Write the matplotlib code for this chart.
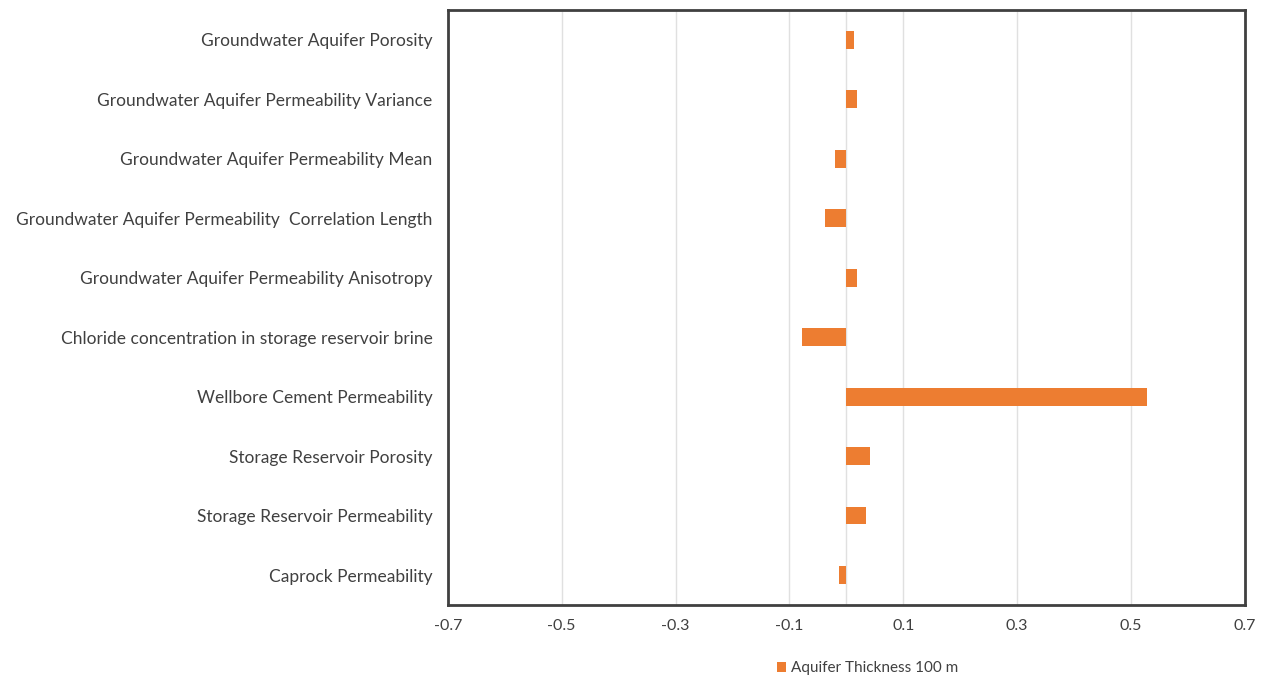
import matplotlib
matplotlib.use("Agg")
import matplotlib.pyplot as plt
import numpy as np

categories = [
    "Groundwater Aquifer Porosity",
    "Groundwater Aquifer Permeability Variance",
    "Groundwater Aquifer Permeability Mean",
    "Groundwater Aquifer Permeability  Correlation Length",
    "Groundwater Aquifer Permeability Anisotropy",
    "Chloride concentration in storage reservoir brine",
    "Wellbore Cement Permeability",
    "Storage Reservoir Porosity",
    "Storage Reservoir Permeability",
    "Caprock Permeability",
]
values = [0.013, 0.018, -0.019, -0.037, 0.018, -0.078, 0.528, 0.041, 0.034, -0.012]
series_name = "Aquifer Thickness 100 m"
xticks = [-0.7, -0.5, -0.3, -0.1, 0.1, 0.3, 0.5, 0.7]

plt.rcParams['font.family'] = ['Lato', 'DejaVu Sans']

fig = plt.figure(figsize=(12.65, 6.81), dpi=100)
ax = fig.add_axes([0.354, 0.112, 0.630, 0.873])

y = np.arange(len(categories))[::-1]
ax.barh(y, values, height=0.3, color="#ED7D31", label=series_name, zorder=3)

ax.set_xlim(-0.7, 0.7)
ax.set_ylim(-0.5, len(categories) - 0.5)
ax.set_xticks(xticks)
ax.set_xticklabels([f"{t:.1f}" for t in xticks])
ax.set_yticks(y)
ax.set_yticklabels(categories)
ax.tick_params(axis="both", length=0, colors="#404040")
ax.tick_params(axis="x", pad=10, labelsize=11.5)
ax.tick_params(axis="y", pad=11, labelsize=12.5)
ax.grid(axis="x", color="#E0E0E0", linewidth=1, zorder=0)
ax.axvline(0, color="#E0E0E0", linewidth=1, zorder=1)
for s in ax.spines.values():
    s.set_color("#404040")
    s.set_linewidth(2)

fig.legend(loc="center", bbox_to_anchor=(0.686, 0.019), frameon=False,
           fontsize=11, handlelength=0.6, handleheight=0.6, handletextpad=0.3,
           labelcolor="#404040")

fig.savefig("out.png", dpi=100)
